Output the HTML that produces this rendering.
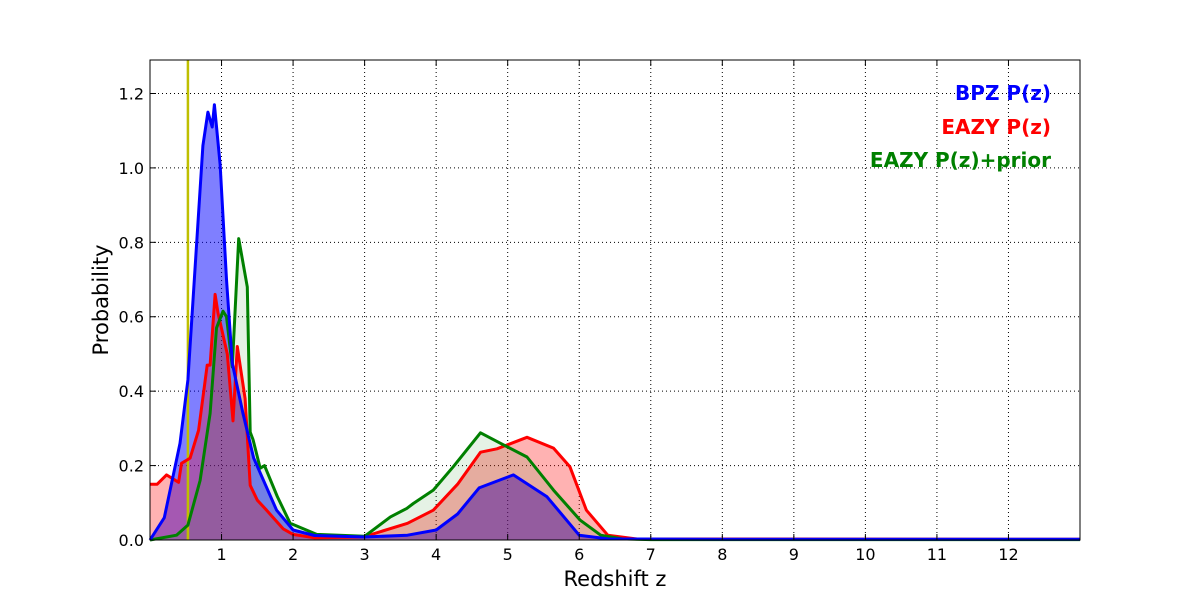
<!DOCTYPE html>
<html><head><meta charset="utf-8"><style>
html,body{margin:0;padding:0;background:#fff;}
svg{display:block;font-family:"DejaVu Sans","Liberation Sans",sans-serif;}
</style></head><body>
<svg id="chart" width="1200" height="600" viewBox="0 0 1200 600">
<rect width="1200" height="600" fill="#fff"/>
<g id="grid"></g>
<g id="fills"></g>
<g id="lines"></g>
<rect x="150" y="60" width="930" height="480" fill="none" stroke="#000" stroke-width="1"/>
<g id="ticks"></g>
<text x="615" y="586" font-size="21" text-anchor="middle">Redshift z</text>
<text transform="translate(108,300) rotate(-90)" font-size="21" text-anchor="middle">Probability</text>
<g font-size="20" font-weight="bold" text-anchor="end">
<text x="1051" y="100" fill="#0000ff">BPZ P(z)</text>
<text x="1051" y="134" fill="#ff0000">EAZY P(z)</text>
<text x="1051" y="167" fill="#008000">EAZY P(z)+prior</text>
</g>
</svg>
<script>
const xTicks=[1,2,3,4,5,6,7,8,9,10,11,12];
const yTicks=[0,0.2,0.4,0.6,0.8,1.0,1.2];
const yTickLabels=["0.0","0.2","0.4","0.6","0.8","1.0","1.2"];
const zSpec=0.53;
const bpzZ=[0,0.2,0.42,0.53,0.74,0.81,0.87,0.9,0.98,1.07,1.15,1.3,1.45,1.77,2.0,2.3,3.0,3.6,4.0,4.3,4.6,5.08,5.55,6.0,6.4,8,13];
const bpzP=[0,0.06,0.26,0.43,1.06,1.15,1.11,1.17,1.01,0.70,0.475,0.34,0.22,0.08,0.027,0.012,0.008,0.013,0.027,0.07,0.14,0.175,0.116,0.013,0.003,0.002,0.002];
const eazyZ=[0,0.1,0.23,0.4,0.44,0.56,0.68,0.8,0.84,0.91,0.95,1.08,1.16,1.22,1.33,1.4,1.5,1.63,1.86,2.0,2.3,2.98,3.6,3.96,4.3,4.62,4.85,5.27,5.64,5.87,6.1,6.4,6.8,12,13];
const eazyP=[0.15,0.15,0.175,0.155,0.206,0.22,0.295,0.47,0.47,0.66,0.61,0.50,0.32,0.52,0.38,0.147,0.107,0.08,0.03,0.015,0.006,0.008,0.045,0.08,0.15,0.236,0.245,0.276,0.247,0.197,0.08,0.013,0.003,0.002,0.002];
const priorZ=[0,0.37,0.53,0.7,0.84,0.93,1.02,1.07,1.15,1.24,1.36,1.4,1.44,1.54,1.6,1.78,1.96,2.33,3.0,3.36,3.59,3.68,3.96,4.24,4.62,4.9,5.27,5.64,6.01,6.3,6.6,7,13];
const priorP=[0,0.013,0.04,0.16,0.34,0.57,0.615,0.6,0.465,0.81,0.68,0.29,0.27,0.193,0.2,0.117,0.045,0.015,0.01,0.062,0.085,0.098,0.134,0.197,0.288,0.26,0.223,0.134,0.054,0.013,0.003,0.001,0.001];
const NS="http://www.w3.org/2000/svg";
const X0=150,X1=1080,Y0=540,Y1=60,ZMAX=13,PMAX=1.29;
function sx(z){return X0+z/ZMAX*(X1-X0);}
function sy(p){return Y0-p/PMAX*(Y0-Y1);}
function mk(tag,attrs,parent){const e=document.createElementNS(NS,tag);for(const k in attrs)e.setAttribute(k,attrs[k]);parent.appendChild(e);return e;}
const grid=document.getElementById('grid'),ticks=document.getElementById('ticks');
xTicks.forEach(t=>{
  const l=mk('line',{x1:sx(t),x2:sx(t),y1:Y1,y2:Y0,stroke:'#000','stroke-width':1,'stroke-dasharray':'1,3'},grid);
  
  
  const tk=mk('line',{x1:sx(t),x2:sx(t),y1:Y0,y2:Y0-6,stroke:'#000'},ticks);
  
  
  const tk2=mk('line',{x1:sx(t),x2:sx(t),y1:Y1,y2:Y1+6,stroke:'#000'},ticks);
  
  
  const tx=mk('text',{x:sx(t),y:Y0+20,'font-size':16,'text-anchor':'middle'},ticks);
  tx.textContent=String(t);
  
  
});
yTicks.forEach((t,i)=>{
  const l=mk('line',{x1:X0,x2:X1,y1:sy(t),y2:sy(t),stroke:'#000','stroke-width':1,'stroke-dasharray':'1,3'},grid);
  
  
  const tk=mk('line',{x1:X0,x2:X0+6,y1:sy(t),y2:sy(t),stroke:'#000'},ticks);
  
  
  const tx=mk('text',{x:X0-6,y:sy(t)+6,'font-size':16,'text-anchor':'end'},ticks);
  tx.textContent=yTickLabels[i];
  
  
});
function linePath(zs,ps){return zs.map((z,i)=>(i?'L':'M')+sx(z).toFixed(1)+','+sy(ps[i]).toFixed(1)).join(' ');}
function areaPath(zs,ps){return linePath(zs,ps)+' L'+sx(zs[zs.length-1])+','+Y0+' L'+sx(zs[0])+','+Y0+' Z';}
const fills=document.getElementById('fills'),lines=document.getElementById('lines');
const series=[
  {name:'bpz',z:bpzZ,p:bpzP,c:'#0000ff',a:0.5},
  {name:'eazy',z:eazyZ,p:eazyP,c:'#ff0000',a:0.3},
  {name:'eazy-prior',z:priorZ,p:priorP,c:'#008000',a:0.1}];
series.forEach(s=>{
  const f=mk('path',{d:areaPath(s.z,s.p),fill:s.c,'fill-opacity':s.a,stroke:'none'},fills);
  
  
});
const vl=mk('line',{x1:sx(zSpec),x2:sx(zSpec),y1:Y1,y2:Y0,stroke:'#bfbf00','stroke-width':2.5},lines);


[series[1],series[2],series[0]].forEach(s=>{
  const l=mk('path',{d:linePath(s.z,s.p),fill:'none',stroke:s.c,'stroke-width':3,'stroke-linejoin':'round'},lines);
  
  
});
</script>
</body></html>
